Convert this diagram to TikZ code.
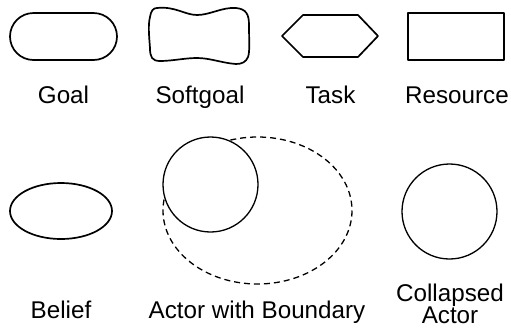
\documentclass[tikz,border=0pt]{standalone}
\usepackage{fontspec}
\setmainfont{Liberation Sans}
\usetikzlibrary{shapes.geometric}
\begin{document}
\begin{tikzpicture}[x=1pt,y=-1pt,
  outline/.style={draw=black,line width=1.7pt,line join=round},
  thin outline/.style={draw=black,line width=1.3pt},
  boundary/.style={draw=black,line width=1.3pt,dash pattern=on 6pt off 4pt},
  label/.style={inner sep=0pt,anchor=base,font=\fontsize{24.2}{22}\selectfont,align=center}]
\useasboundingbox (0,0) rectangle (511,333);

% goal: stadium shape
\node[outline,rectangle,rounded corners=23.5pt,minimum width=107pt,minimum height=47pt,inner sep=0pt] (goal) at (63.5,36.5) {};

% softgoal: wavy blob
\draw[outline] (157,8) .. controls (175,6) and (185,15) .. (197,15)
  .. controls (210,15) and (222,7) .. (236,8)
  .. controls (246,9) and (249,14) .. (249,25)
  .. controls (249,40) and (250,52) .. (248,57)
  .. controls (246,62) and (242,64) .. (236,64)
  .. controls (222,63) and (210,58) .. (197,58)
  .. controls (185,58) and (172,61) .. (160,61)
  .. controls (152,61) and (150,57) .. (150,48)
  .. controls (149,35) and (148,25) .. (150,17)
  .. controls (151,11) and (153,8) .. (157,8) -- cycle;

% task: hexagon
\draw[outline] (282,36) -- (303,15) -- (358,15) -- (378,36) -- (358,57) -- (303,57) -- cycle;

% resource: rectangle
\draw[outline] (408,13) rectangle (504,60);

% belief: ellipse
\node[outline,ellipse,minimum width=102pt,minimum height=56pt,inner sep=0pt] (belief) at (61,211) {};

% actor with its dashed boundary
\draw[boundary] (257.5,210.5) ellipse [x radius=94.5, y radius=73.5];
\node[thin outline,circle,fill=white,minimum size=95pt,inner sep=0pt] (actor) at (210.5,184.5) {};

% collapsed actor
\node[thin outline,circle,minimum size=95pt,inner sep=0pt] (collapsed) at (449.5,211.5) {};

% captions
\node[label] (lgoal) at (63.5,103) {Goal};
\node[label] (lsoft) at (200,103) {Softgoal};
\node[label] (ltask) at (330.5,103) {Task};
\node[label] (lres) at (457,103) {Resource};
\node[label] (lbel) at (61,318) {Belief};
\node[label] (lact) at (257,318) {Actor with Boundary};
\node[label] (lcol) at (450,323) {Collapsed\\Actor};
\end{tikzpicture}
\end{document}
